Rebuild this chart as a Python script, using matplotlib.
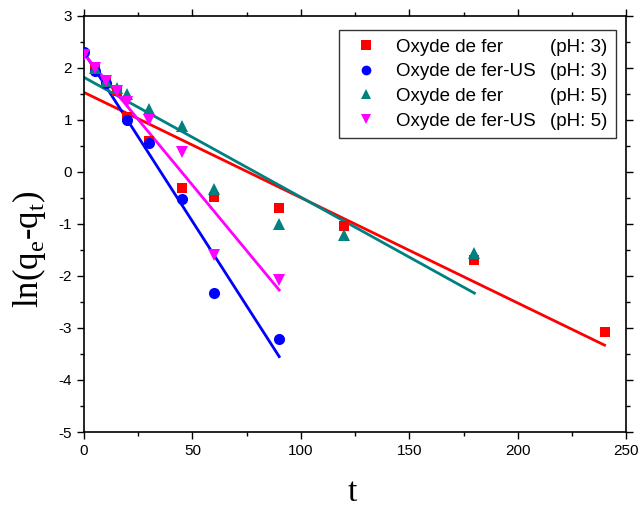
import matplotlib
matplotlib.use("Agg")
import matplotlib.pyplot as plt
from matplotlib.lines import Line2D
import numpy as np

# data
t_fer3 = [5, 10, 15, 20, 30, 45, 60, 90, 120, 180, 240]
y_fer3 = [1.98, 1.75, 1.55, 1.05, 0.6, -0.3, -0.48, -0.7, -1.03, -1.7, -3.07]

t_us3 = [0, 5, 10, 20, 30, 45, 60, 90]
y_us3 = [2.3, 1.95, 1.72, 1.0, 0.55, -0.52, -2.33, -3.22]

t_fer5 = [5, 10, 15, 20, 30, 45, 60, 90, 120, 180]
y_fer5 = [2.0, 1.75, 1.62, 1.5, 1.22, 0.88, -0.32, -1.0, -1.22, -1.55]

t_us5 = [0, 5, 10, 15, 20, 30, 45, 60, 90]
y_us5 = [2.25, 2.0, 1.75, 1.55, 1.35, 1.0, 0.38, -1.6, -2.07]

# fitted lines (endpoints)
fit_fer3 = ([0, 240], [1.53, -3.33])
fit_us3 = ([0, 90], [2.3, -3.55])
fit_fer5 = ([0, 180], [1.82, -2.33])
fit_us5 = ([0, 90], [2.27, -2.27])

names = ["Oxyde de fer", "Oxyde de fer-US", "Oxyde de fer", "Oxyde de fer-US"]
ph = ["(pH: 3)", "(pH: 3)", "(pH: 5)", "(pH: 5)"]
colors = ["#ff0000", "#0000ff", "#008080", "#ff00ff"]
markers = ["s", "o", "^", "v"]

plt.rcParams['font.family'] = ['Liberation Sans', 'DejaVu Sans']
plt.rcParams['axes.unicode_minus'] = False

fig = plt.figure(figsize=(6.41, 5.08), dpi=100)
ax = fig.add_axes([0.131, 0.1496, 0.846, 0.819])

series = [(t_fer3, y_fer3, fit_fer3), (t_us3, y_us3, fit_us3),
          (t_fer5, y_fer5, fit_fer5), (t_us5, y_us5, fit_us5)]
msize = [7, 8, 8, 8]
for i, (tx, ty, fit) in enumerate(series):
    ax.plot(fit[0], fit[1], color=colors[i], lw=2, zorder=2)
for i, (tx, ty, fit) in enumerate(series):
    ax.plot(tx, ty, linestyle="none", marker=markers[i], color=colors[i],
            markersize=msize[i], markeredgewidth=0, zorder=3)

ax.set_xlim(0, 250)
ax.set_ylim(-5, 3)
ax.set_xticks(np.arange(0, 251, 50))
ax.set_yticks(np.arange(-5, 4, 1))
ax.set_xticks(np.arange(25, 250, 50), minor=True)
ax.set_yticks(np.arange(-4.5, 3, 1), minor=True)
ax.tick_params(which="both", direction="out", top=True, right=True,
               labeltop=False, labelright=False, width=1)
ax.tick_params(which="major", length=5, labelsize=11)
ax.tick_params(which="minor", length=3)
for s in ax.spines.values():
    s.set_linewidth(1.2)

ax.set_xlabel("t", fontsize=24, family="Liberation Serif")
ax.xaxis.set_label_coords(0.494, -0.11)
ax.set_ylabel(r"ln(q$_\mathregular{e}$-q$_\mathregular{t}$)", fontsize=25,
              family="Liberation Serif")
ax.yaxis.set_label_coords(-0.066, 0.44)

handles = [Line2D([], [], linestyle="none", marker=markers[i], color=colors[i],
                  markersize=7, markeredgewidth=0) for i in range(4)]
blank = [Line2D([], [], linestyle="none") for _ in range(4)]
leg = ax.legend(handles + blank, names + ph, ncol=2, loc="upper right",
                bbox_to_anchor=(0.9815, 0.966), borderaxespad=0, fontsize=13.5,
                frameon=True, fancybox=False, edgecolor="black",
                labelspacing=0.4, handlelength=2.0, handletextpad=0.6,
                columnspacing=-1.84, borderpad=0.45)
leg.get_frame().set_linewidth(1.0)

fig.savefig("out.png", dpi=100)
